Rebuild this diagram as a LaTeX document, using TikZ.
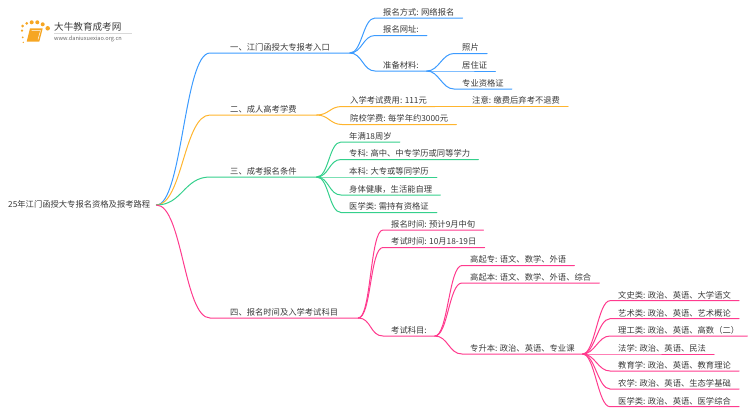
\documentclass[tikz,border=0pt]{standalone}
\usepackage{fontspec}
\setmainfont{Noto Sans CJK SC}
\definecolor{ink}{HTML}{3A3A3A}
\definecolor{bluebr}{HTML}{3C9BFF}
\definecolor{orangebr}{HTML}{FFB52E}
\definecolor{greenbr}{HTML}{34D08C}
\definecolor{pinkbr}{HTML}{FF3B8E}
\definecolor{bookorange}{HTML}{F6A623}
\tikzset{
  item/.style={anchor=south west, inner xsep=8pt, inner ysep=1pt, text height=7pt, text depth=1.5pt, text=ink, font=\fontsize{8.3}{10}\selectfont},
  head/.style={item, inner xsep=20pt},
  br/.style={line width=1pt, line cap=round},
  sundot/.style={circle, fill=bookorange, inner sep=0pt}
}
\begin{document}
\begin{tikzpicture}[x=1pt, y=-1pt]
      \useasboundingbox (0,0) rectangle (750,410);
      % logo
      \node[sundot, minimum size=2.5pt] (sun1) at (22,30.7){};
      \node[sundot, minimum size=2pt] (sun2) at (22.7,37.3){};
      \node[sundot, minimum size=1.5pt] (sun3) at (23.3,42.3){};
      \node[sundot, minimum size=3pt] (sun4) at (22.7,26){};
      \node[sundot, minimum size=3pt] (sun5) at (26.7,23.3){};
      \node[sundot, minimum size=4pt] (sun6) at (31.7,22.3){};
      \node[sundot, minimum size=4pt] (sun7) at (37.3,22.3){};
      \node[sundot, minimum size=4pt] (sun8) at (42.7,24.3){};
      \node[sundot, minimum size=4.5pt] (sun9) at (47.7,28.3){};
      \fill[bookorange] (30,28.3) -- (42.7,28.3) -- (39.3,41.7) -- (26.7,41.7) -- cycle;
      \draw[white, line width=.5pt] (31.5,30.5) -- (40.5,30.5) -- (38,39.5);
      \draw[black!15, line width=.5pt] (54,33) -- (132,33);
      \node[anchor=west, inner sep=0pt, text=ink, font=\fontsize{9.6}{11}\selectfont] (logoname) at (54,27){大牛教育成考网};
      \node[anchor=west, inner sep=0pt, text=black!60, font=\fontsize{5.6}{7}\selectfont] (logourl) at (54,38.5){www.daniuxuexiao.org.cn};
      % root
      \node[item, anchor=west, inner xsep=6pt] (root) at (2,205){25年江门函授大专报名资格及报考路程};
      % first branch
      \node[head] (tid1) at (210,53){一、江门函授大专报考入口};
      \node[item] (tid11) at (375,18){报名方式: 网络报名};
      \node[item] (tid12) at (375,35.5){报名网址:};
      \node[item] (tid13) at (375,71){准备材料:};
      \node[item] (tid131) at (454,53.5){照片};
      \node[item] (tid132) at (454,71){居住证};
      \node[item] (tid133) at (454,89){专业资格证};
      \draw[br, bluebr](root.east) .. controls +(26,0) and +(-26,0) .. (tid1.south west) -- (tid1.south east);
      \draw[br, bluebr](tid1.south east) .. controls +(12,0) and +(-12,0) .. (tid11.south west) -- (tid11.south east);
      \draw[br, bluebr](tid1.south east) .. controls +(12,0) and +(-12,0) .. (tid12.south west) -- (tid12.south east);
      \draw[br, bluebr](tid1.south east) .. controls +(12,0) and +(-12,0) .. (tid13.south west) -- (tid13.south east);
      \draw[br, bluebr](tid13.south east) .. controls +(12,0) and +(-12,0) .. (tid131.south west) -- (tid131.south east);
      \draw[br, bluebr](tid13.south east) -- (tid132.south west) -- (tid132.south east);
      \draw[br, bluebr](tid13.south east) .. controls +(12,0) and +(-12,0) .. (tid133.south west) -- (tid133.south east);
      % second branch
      \node[head] (tid2) at (210,115){二、成人高考学费};
      \node[item] (tid21) at (342,106.5){入学考试费用: 111元};
      \node[item] (tid211) at (464,106.5){注意: 缴费后弃考不退费};
      \node[item] (tid22) at (342,124.5){院校学费: 每学年约3000元};
      \draw[br, orangebr](root.east) .. controls +(26,0) and +(-26,0) .. (tid2.south west) -- (tid2.south east);
      \draw[br, orangebr](tid2.south east) .. controls +(12,0) and +(-12,0) .. (tid21.south west) -- (tid21.south east);
      \draw[br, orangebr](tid21.south east) -- (tid211.south west) -- (tid211.south east);
      \draw[br, orangebr](tid2.south east) .. controls +(12,0) and +(-12,0) .. (tid22.south west) -- (tid22.south east);
      % third branch
      \node[head] (tid3) at (210,177){三、成考报名条件};
      \node[item] (tid31) at (341,142){年满18周岁};
      \node[item] (tid32) at (341,159.5){专科: 高中、中专学历或同等学力};
      \node[item] (tid33) at (341,177){本科: 大专或等同学历};
      \node[item] (tid34) at (341,195){身体健康，生活能自理};
      \node[item] (tid35) at (341,212.5){医学类: 需持有资格证};
      \draw[br, greenbr](root.east) .. controls +(26,0) and +(-26,0) .. (tid3.south west) -- (tid3.south east);
      \draw[br, greenbr](tid3.south east) .. controls +(12,0) and +(-12,0) .. (tid31.south west) -- (tid31.south east);
      \draw[br, greenbr](tid3.south east) .. controls +(12,0) and +(-12,0) .. (tid32.south west) -- (tid32.south east);
      \draw[br, greenbr](tid3.south east) -- (tid33.south west) -- (tid33.south east);
      \draw[br, greenbr](tid3.south east) .. controls +(12,0) and +(-12,0) .. (tid34.south west) -- (tid34.south east);
      \draw[br, greenbr](tid3.south east) .. controls +(12,0) and +(-12,0) .. (tid35.south west) -- (tid35.south east);
      % fourth branch
      \node[head] (tid4) at (210,318){四、报名时间及入学考试科目};
      \node[item] (tid41) at (383,230){报名时间: 预计9月中旬};
      \node[item] (tid42) at (383,247.5){考试时间: 10月18-19日};
      \node[item] (tid43) at (383,336){考试科目:};
      \node[item] (tid431) at (462,265.5){高起专: 语文、数学、外语};
      \node[item] (tid432) at (462,283){高起本: 语文、数学、外语、综合};
      \node[item] (tid433) at (462,354){专升本: 政治、英语、专业课};
      \node[item] (tid4331) at (610,300.7){文史类: 政治、英语、大学语文};
      \node[item] (tid4332) at (610,318.7){艺术类: 政治、英语、艺术概论};
      \node[item] (tid4333) at (610,336){理工类: 政治、英语、高数（二）};
      \node[item] (tid4334) at (610,354){法学: 政治、英语、民法};
      \node[item] (tid4335) at (610,371){教育学: 政治、英语、教育理论};
      \node[item] (tid4336) at (610,389){农学: 政治、英语、生态学基础};
      \node[item] (tid4337) at (610,406.7){医学类: 政治、英语、医学综合};
      \draw[br, pinkbr](root.east) .. controls +(26,0) and +(-26,0) .. (tid4.south west) -- (tid4.south east);
      \draw[br, pinkbr](tid4.south east) .. controls +(13,0) and +(-13,0) .. (tid41.south west) -- (tid41.south east);
      \draw[br, pinkbr](tid4.south east) .. controls +(13,0) and +(-13,0) .. (tid42.south west) -- (tid42.south east);
      \draw[br, pinkbr](tid4.south east) .. controls +(13,0) and +(-13,0) .. (tid43.south west) -- (tid43.south east);
      \draw[br, pinkbr](tid43.south east) .. controls +(13,0) and +(-13,0) .. (tid431.south west) -- (tid431.south east);
      \draw[br, pinkbr](tid43.south east) .. controls +(13,0) and +(-13,0) .. (tid432.south west) -- (tid432.south east);
      \draw[br, pinkbr](tid43.south east) .. controls +(13,0) and +(-13,0) .. (tid433.south west) -- (tid433.south east);
      \draw[br, pinkbr](tid433.south east) .. controls +(12,0) and +(-12,0) .. (tid4331.south west) -- (tid4331.south east);
      \draw[br, pinkbr](tid433.south east) .. controls +(12,0) and +(-12,0) .. (tid4332.south west) -- (tid4332.south east);
      \draw[br, pinkbr](tid433.south east) .. controls +(12,0) and +(-12,0) .. (tid4333.south west) -- (tid4333.south east);
      \draw[br, pinkbr](tid433.south east) -- (tid4334.south west) -- (tid4334.south east);
      \draw[br, pinkbr](tid433.south east) .. controls +(12,0) and +(-12,0) .. (tid4335.south west) -- (tid4335.south east);
      \draw[br, pinkbr](tid433.south east) .. controls +(12,0) and +(-12,0) .. (tid4336.south west) -- (tid4336.south east);
      \draw[br, pinkbr](tid433.south east) .. controls +(12,0) and +(-12,0) .. (tid4337.south west) -- (tid4337.south east);
    \end{tikzpicture}
\end{document}
